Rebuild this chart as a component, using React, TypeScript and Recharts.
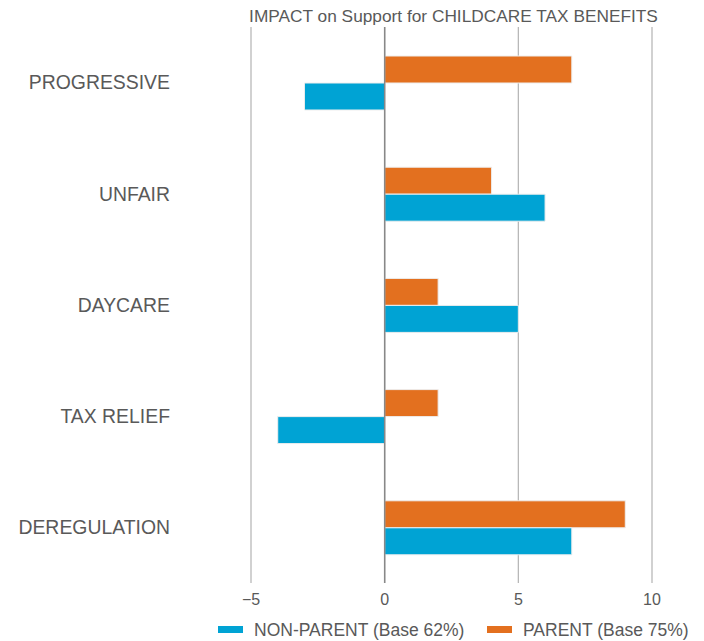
import React from 'react';
import { BarChart, Bar, XAxis, YAxis, CartesianGrid, ReferenceLine, Legend } from 'recharts';

const categories = ['PROGRESSIVE', 'UNFAIR', 'DAYCARE', 'TAX RELIEF', 'DEREGULATION'];
const parentValues = [7, 4, 2, 2, 9];
const nonParentValues = [-3, 6, 5, -4, 7];
const xTicks = [-5, 0, 5, 10];
const title = 'IMPACT on Support for CHILDCARE TAX BENEFITS';
const parentName = 'PARENT (Base 75%)';
const nonParentName = 'NON-PARENT (Base 62%)';

const data = categories.map((c, i) => ({ name: c, parent: parentValues[i], nonParent: nonParentValues[i] }));

const FONT = '"Liberation Sans", Arial, sans-serif';
const TEXT = '#595959';
const BLUE = '#00A3D4';
const ORANGE = '#E3701F';

const legendItems = [
  { label: nonParentName, color: BLUE, x: 218 },
  { label: parentName, color: ORANGE, x: 487 },
];

const LegendContent = () => (
  <svg width={704} height={24} style={{ display: 'block' }}>
    {legendItems.map((it) => (
      <g key={it.label}>
        <rect x={it.x} y={9} width={25} height={7} fill={it.color} />
        <text x={it.x + 36} y={12.5} dy="0.355em" fontSize={17.5} fill={TEXT} fontFamily={FONT}>
          {it.label}
        </text>
      </g>
    ))}
  </svg>
);

const formatTick = (v: number) => (v < 0 ? '\u2212' + Math.abs(v) : String(v));

export default function App() {
  return (
    <div style={{ position: 'absolute', left: 0, top: 0, width: 704, height: 641, background: '#fff' }}>
      <BarChart
        width={704}
        height={641}
        data={data}
        layout="vertical"
        margin={{ top: 27, right: 52, bottom: 28, left: 0 }}
        barGap={0}
        barSize={27}
      >
        <CartesianGrid horizontal={false} vertical={true} stroke="#b3b3b3" strokeWidth={1.2} />
        <XAxis
          type="number"
          domain={[-5, 10]}
          ticks={xTicks}
          tickFormatter={formatTick}
          axisLine={false}
          tickLine={false}
          tickSize={0}
          tickMargin={11}
          height={30}
          tick={{ fill: TEXT, fontSize: 16, fontFamily: FONT }}
        />
        <YAxis
          type="category"
          dataKey="name"
          width={251}
          axisLine={false}
          tickLine={false}
          tickSize={0}
          tickMargin={81}
          tick={{ fill: TEXT, fontSize: 19.4, fontFamily: FONT }}
        />
        <Legend
          layout="horizontal"
          verticalAlign="middle"
          align="center"
          wrapperStyle={{ top: 617, left: 0, width: 704, height: 24 }}
          content={<LegendContent />}
        />
        <Bar dataKey="parent" name={parentName} fill={ORANGE} stroke="#eeeeee" strokeWidth={1} isAnimationActive={false} />
        <Bar dataKey="nonParent" name={nonParentName} fill={BLUE} stroke="#eeeeee" strokeWidth={1} isAnimationActive={false} />
        <ReferenceLine x={0} stroke="#888888" strokeWidth={1.5} />
        <text x={453.5} y={22} textAnchor="middle" fontSize={17.3} fill={TEXT} fontFamily={FONT}>
          {title}
        </text>
      </BarChart>
    </div>
  );
}
